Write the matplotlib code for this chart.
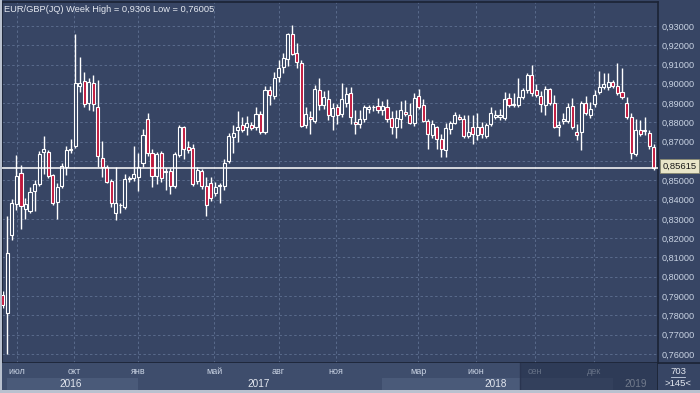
import numpy as np
import matplotlib
matplotlib.use("Agg")
import matplotlib.pyplot as plt
from matplotlib.ticker import FixedLocator, FuncFormatter
from matplotlib.patches import Rectangle
from matplotlib.lines import Line2D

# weekly EUR/GBP candles (oldest first)
opens = [
    0.7905, 0.7812, 0.8217, 0.8376, 0.8537, 0.8351, 0.8343, 0.8446, 0.8479, 0.8645,
    0.8648, 0.8528, 0.8389, 0.8471, 0.8567, 0.8655, 0.8678, 0.8990, 0.9016, 0.8900,
    0.9003, 0.8882, 0.8614, 0.8567, 0.8495, 0.8332, 0.8370, 0.8360, 0.8505, 0.8510,
    0.8516, 0.8591, 0.8816, 0.8643, 0.8522, 0.8640, 0.8545, 0.8548, 0.8472, 0.8631,
    0.8775, 0.8671, 0.8666, 0.8498, 0.8548, 0.8471, 0.8488, 0.8433, 0.8470, 0.8472,
    0.8602, 0.8723, 0.8761, 0.8787, 0.8775, 0.8784, 0.8778, 0.8844, 0.8752, 0.8967,
    0.8937, 0.9034, 0.9089, 0.9127, 0.9259, 0.9158, 0.9107, 0.8787, 0.8826, 0.8809,
    0.8967, 0.8890, 0.8920, 0.8834, 0.8878, 0.8844, 0.8902, 0.8951, 0.8804, 0.8792,
    0.8816, 0.8867, 0.8878, 0.8886, 0.8862, 0.8878, 0.8821, 0.8778, 0.8816, 0.8856,
    0.8839, 0.8799, 0.8939, 0.8890, 0.8809, 0.8735, 0.8775, 0.8713, 0.8657, 0.8764,
    0.8799, 0.8830, 0.8816, 0.8730, 0.8778, 0.8735, 0.8778, 0.8730, 0.8792, 0.8830,
    0.8830, 0.8821, 0.8925, 0.8890, 0.8890, 0.8934, 0.8967, 0.9046, 0.8967, 0.8937,
    0.8890, 0.8972, 0.8902, 0.8775, 0.8809, 0.8809, 0.8885, 0.8752, 0.8752, 0.8899,
    0.8839, 0.8896, 0.8959, 0.8985, 0.8985, 0.9011, 0.8989, 0.8959, 0.8903, 0.8827,
    0.8636, 0.8761, 0.8755, 0.8747, 0.8674,
]
highs = [
    0.7925, 0.8315, 0.8402, 0.8631, 0.8578, 0.8408, 0.8467, 0.8500, 0.8652, 0.8727,
    0.8657, 0.8535, 0.8487, 0.8590, 0.8676, 0.8713, 0.9259, 0.9138, 0.9060, 0.9032,
    0.9046, 0.9022, 0.8705, 0.8578, 0.8505, 0.8571, 0.8380, 0.8535, 0.8520, 0.8678,
    0.8640, 0.8764, 0.8851, 0.8660, 0.8648, 0.8650, 0.8562, 0.8562, 0.8648, 0.8785,
    0.8779, 0.8705, 0.8690, 0.8570, 0.8560, 0.8519, 0.8519, 0.8490, 0.8485, 0.8610,
    0.8745, 0.8786, 0.8860, 0.8830, 0.8835, 0.8800, 0.8880, 0.8860, 0.8990, 0.8989,
    0.9060, 0.9125, 0.9158, 0.9265, 0.9306, 0.9210, 0.9124, 0.8880, 0.8860, 0.8995,
    0.9030, 0.8965, 0.8970, 0.8900, 0.8895, 0.9005, 0.8985, 0.8985, 0.8865, 0.8865,
    0.8890, 0.8890, 0.8890, 0.8925, 0.8910, 0.8920, 0.8860, 0.8865, 0.8912, 0.8915,
    0.8900, 0.8950, 0.8975, 0.8920, 0.8820, 0.8810, 0.8780, 0.8740, 0.8795, 0.8805,
    0.8855, 0.8845, 0.8840, 0.8840, 0.8840, 0.8850, 0.8800, 0.8795, 0.8880, 0.8865,
    0.8870, 0.8955, 0.8950, 0.8950, 0.9029, 0.8980, 0.9055, 0.9098, 0.9000, 0.8965,
    0.8990, 0.8980, 0.8940, 0.8805, 0.8850, 0.8900, 0.8925, 0.8790, 0.8910, 0.8935,
    0.8905, 0.8970, 0.9065, 0.9055, 0.9055, 0.9020, 0.9107, 0.9080, 0.8930, 0.8850,
    0.8820, 0.8810, 0.8830, 0.8760, 0.8690,
]
lows = [
    0.7840, 0.7600, 0.8188, 0.8345, 0.8248, 0.8300, 0.8333, 0.8340, 0.8470, 0.8535,
    0.8510, 0.8372, 0.8300, 0.8460, 0.8528, 0.8640, 0.8667, 0.8960, 0.8880, 0.8865,
    0.8860, 0.8569, 0.8519, 0.8485, 0.8363, 0.8294, 0.8330, 0.8350, 0.8490, 0.8495,
    0.8446, 0.8570, 0.8625, 0.8463, 0.8480, 0.8490, 0.8450, 0.8429, 0.8460, 0.8620,
    0.8609, 0.8640, 0.8470, 0.8480, 0.8455, 0.8315, 0.8395, 0.8420, 0.8381, 0.8450,
    0.8590, 0.8640, 0.8700, 0.8750, 0.8735, 0.8760, 0.8760, 0.8740, 0.8740, 0.8890,
    0.8920, 0.9010, 0.9055, 0.9090, 0.9150, 0.9080, 0.8775, 0.8770, 0.8740, 0.8795,
    0.8865, 0.8870, 0.8812, 0.8760, 0.8790, 0.8830, 0.8880, 0.8790, 0.8740, 0.8770,
    0.8800, 0.8850, 0.8860, 0.8850, 0.8840, 0.8800, 0.8740, 0.8720, 0.8770, 0.8835,
    0.8790, 0.8780, 0.8870, 0.8800, 0.8660, 0.8720, 0.8660, 0.8620, 0.8619, 0.8740,
    0.8790, 0.8810, 0.8720, 0.8720, 0.8690, 0.8710, 0.8720, 0.8720, 0.8780, 0.8820,
    0.8815, 0.8810, 0.8880, 0.8880, 0.8880, 0.8920, 0.8950, 0.8935, 0.8930, 0.8855,
    0.8840, 0.8890, 0.8770, 0.8730, 0.8790, 0.8795, 0.8765, 0.8710, 0.8657, 0.8840,
    0.8825, 0.8880, 0.8945, 0.8975, 0.8970, 0.8980, 0.8940, 0.8920, 0.8820, 0.8610,
    0.8625, 0.8730, 0.8735, 0.8660, 0.8552,
]
closes = [
    0.7855, 0.8122, 0.8384, 0.8522, 0.8367, 0.8377, 0.8441, 0.8481, 0.8635, 0.8661,
    0.8522, 0.8384, 0.8465, 0.8576, 0.8657, 0.8662, 0.9003, 0.9003, 0.8896, 0.9010,
    0.8896, 0.8626, 0.8571, 0.8491, 0.8384, 0.8384, 0.8374, 0.8505, 0.8512, 0.8533,
    0.8571, 0.8735, 0.8643, 0.8522, 0.8637, 0.8510, 0.8550, 0.8472, 0.8636, 0.8778,
    0.8661, 0.8657, 0.8481, 0.8554, 0.8471, 0.8372, 0.8407, 0.8467, 0.8478, 0.8591,
    0.8727, 0.8747, 0.8778, 0.8761, 0.8796, 0.8772, 0.8844, 0.8752, 0.8967, 0.8942,
    0.9029, 0.9081, 0.9133, 0.9259, 0.9155, 0.9115, 0.8782, 0.8844, 0.8816, 0.8972,
    0.8890, 0.8930, 0.8839, 0.8873, 0.8839, 0.8920, 0.8947, 0.8827, 0.8792, 0.8816,
    0.8878, 0.8878, 0.8882, 0.8865, 0.8883, 0.8816, 0.8778, 0.8821, 0.8864, 0.8844,
    0.8799, 0.8925, 0.8882, 0.8809, 0.8740, 0.8792, 0.8713, 0.8661, 0.8769, 0.8799,
    0.8839, 0.8816, 0.8730, 0.8752, 0.8740, 0.8775, 0.8740, 0.8787, 0.8847, 0.8839,
    0.8836, 0.8920, 0.8890, 0.8895, 0.8934, 0.8967, 0.9046, 0.8951, 0.8942, 0.8894,
    0.8972, 0.8903, 0.8775, 0.8787, 0.8816, 0.8882, 0.8775, 0.8735, 0.8899, 0.8851,
    0.8868, 0.8942, 0.8985, 0.8999, 0.9011, 0.8989, 0.8951, 0.8930, 0.8827, 0.8640,
    0.8761, 0.8740, 0.8760, 0.8678, 0.85615,
]

# month labels on the time band and the candle index where each month starts
month_labels = ["июл", "окт", "янв", "май", "авг", "ноя", "мар", "июн", "сен", "дек"]
month_pos = [3.1, 15.8, 30.0, 46.8, 61.0, 73.7, 91.9, 104.7, 117.7, 130.8]
year_labels = ["2016", "2017", "2018", "2019"]
year_start = [-0.2, 30.0, 83.0, 135.0, 144.9]
price_ticks = [0.76, 0.77, 0.78, 0.79, 0.80, 0.81, 0.82, 0.83, 0.84,
               0.85, 0.86, 0.87, 0.88, 0.89, 0.90, 0.91, 0.92, 0.93]

title = "EUR/GBP(JQ) Week High = 0,9306 Low = 0,76005"
last_price = 0.85615

bg = "#374564"
band = "#3e4d6c"
band_light = "#4a5a79"
red = "#c0173c"
grid_c = "#5a6b8c"
txt = "#c9d3e3"
dark = "#1b2335"

plt.rcParams["font.family"] = ["Liberation Sans", "DejaVu Sans"]

fig = plt.figure(figsize=(7.0, 3.93), dpi=100, facecolor=bg)
W, H = 700.0, 393.0
ax = fig.add_axes([2 / W, 30 / H, 655.7 / W, 361 / H], facecolor=bg)

o = np.array(opens)
h = np.array(highs)
l = np.array(lows)
c = np.array(closes)
idx = np.arange(len(o))
up = c >= o
fill = np.where(up, bg, red)

ax.vlines(idx, l, h, color="white", linewidth=1.0, zorder=2)
body_h = np.maximum(np.abs(c - o), 0.00008)
ax.bar(idx, body_h, bottom=np.minimum(o, c), width=0.68, color=fill,
       edgecolor="white", linewidth=0.8, zorder=3)

ax.axhline(last_price, color="white", linewidth=1.1, zorder=4)

ax.set_xlim(-0.2, 144.9)
ax.set_ylim(0.7553, 0.9424)


def price_fmt(v, p):
    # the 0,86 label sits under the current-price tag
    if abs(v - 0.86) < 1e-6:
        return ""
    return f"{v:.5f}".replace(".", ",")


ax.yaxis.set_major_locator(FixedLocator(price_ticks))
ax.yaxis.set_major_formatter(FuncFormatter(price_fmt))
ax.yaxis.tick_right()
ax.tick_params(axis="y", length=0, pad=2.5, labelsize=6.6, labelcolor=txt)
ax.set_xticks(month_pos)
ax.tick_params(axis="x", length=0, labelbottom=False)
ax.grid(True, color=grid_c, linestyle=(0, (2.5, 2.5)), linewidth=0.7, zorder=0)
for s in ["left", "right", "bottom", "top"]:
    ax.spines[s].set_color(dark)
    ax.spines[s].set_linewidth(1.2)

ax.text(0.003, 0.992, title, transform=ax.transAxes, ha="left", va="top",
        fontsize=6.7, color="#e4e8f0", zorder=6)

# current price tag on the price scale
ax.annotate(f"{last_price:.5f}".replace(".", ","), xy=(1.0, last_price),
            xycoords=("axes fraction", "data"), xytext=(3.5, 1.5),
            textcoords="offset points", ha="left", va="center", fontsize=6.8,
            color="#1a1a1a", annotation_clip=False, zorder=10,
            bbox=dict(boxstyle="square,pad=0.25", fc="#e9e6c9", ec="#8a8a70", lw=0.6))

# time band below the chart
axt = fig.add_axes([2 / W, 3 / H, 655.7 / W, 27 / H], facecolor=band, sharex=ax)
axt.set_ylim(0, 1)
axt.set_yticks([])
axt.tick_params(axis="x", length=0, labelbottom=False)
for s in axt.spines.values():
    s.set_visible(False)
for k in range(len(year_labels)):
    if k % 2 == 0:
        axt.axvspan(year_start[k] + 1, year_start[k + 1], ymin=0.0, ymax=0.46,
                    color=band_light, lw=0, zorder=1)
for lab, p in zip(month_labels, month_pos):
    axt.text(p, 0.68, lab, ha="center", va="center", fontsize=6.5, color=txt, zorder=3)
for k, lab in enumerate(year_labels):
    mid = (year_start[k] + year_start[k + 1]) / 2
    axt.text(mid, 0.22, lab, ha="center", va="center", fontsize=7.2, color="#e4e8f0", zorder=3)
axt.axvspan(114.4, 144.9, color="#243049", alpha=0.6, lw=0, zorder=5)
axt.axvline(114.4, color="#2a3550", lw=1.0, zorder=6)
axt.axvline(144.9, color=dark, lw=1.2, zorder=6)

# bottom-right counter
fig.text(678 / W, 1 - 371 / H, "703", ha="center", va="center", fontsize=6.8, color="#e4e8f0")
fig.text(678 / W, 1 - 384 / H, ">145<", ha="center", va="center", fontsize=6.8, color="#e4e8f0")
fig.add_artist(Line2D([671 / W, 685 / W], [1 - 377 / H, 1 - 377 / H], color=txt, lw=0.6))
fig.add_artist(Line2D([657.7 / W, 1.0], [30 / H, 30 / H], color=dark, lw=1.2))

# light outer frame
fig.add_artist(Rectangle((0, 0), 1, 3 / H, transform=fig.transFigure,
                         color="#b9c1cf", lw=0))
fig.add_artist(Rectangle((0, 0), 1.5 / W, 1, transform=fig.transFigure,
                         color="#b9c1cf", lw=0))

fig.savefig("out.png", dpi=100, facecolor=bg)
